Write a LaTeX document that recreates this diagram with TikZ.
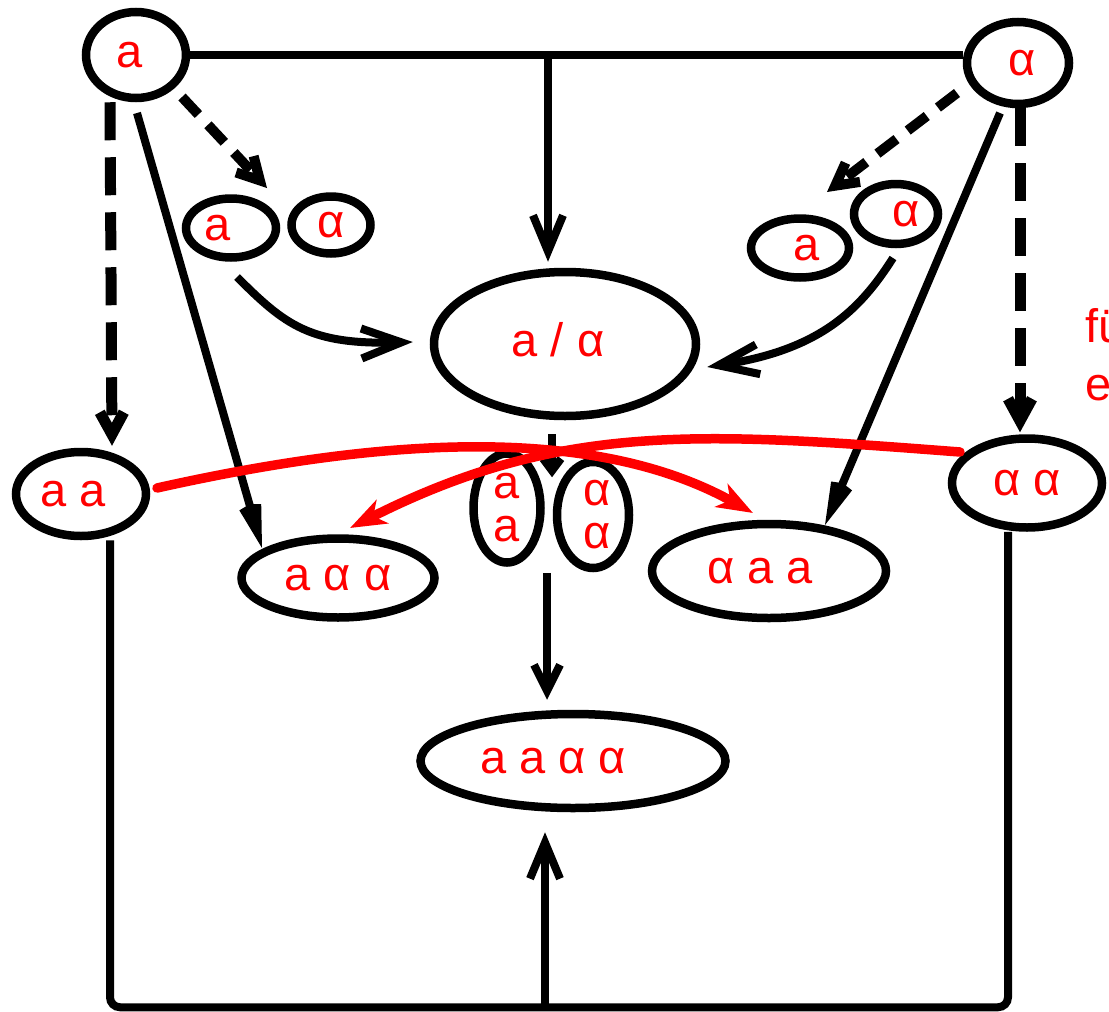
\documentclass[tikz,border=0pt]{standalone}
\usepackage{fontspec}
\setmainfont{Liberation Sans}
\usetikzlibrary{shapes.geometric,arrows.meta,calc}
\definecolor{tred}{RGB}{255,0,0}
\newcommand\txtsize{\fontsize{47}{43}\selectfont}
\newcommand\offt[2]{\kern#1\relax#2\kern-#1\relax}
\begin{document}
\begin{tikzpicture}[x=1pt,y=-1pt,
  ellv/.style={ellipse,draw,line width=8.5pt,inner sep=0pt,text=tred,font=\txtsize},
  ell/.style={ellv,text height=24pt,text depth=0pt},
  blk/.style={line width=8pt},
  dashv/.style={line width=11pt,dash pattern=on 38pt off 17pt},
  dashd/.style={line width=10pt,dash pattern=on 24pt off 14pt},
  barbT/.style={-{Straight Barb[length=36pt,width=30pt]}},
  barbC/.style={-{Straight Barb[length=40pt,width=30pt]}},
  barbS/.style={-{Straight Barb[length=28pt,width=15pt]}},
  barbD/.style={-{Straight Barb[length=22pt,width=24pt]}},
  barbF/.style={-{Straight Barb[length=26pt,width=26pt]}},
  barbSm/.style={-{Straight Barb[length=12pt,width=18pt]}},
  rd/.style={draw=tred,line width=9.5pt,line cap=round,-{Stealth[length=36pt,width=26pt,inset=10pt]}},
  lab/.style={text=tred,font=\txtsize,anchor=base west,inner sep=0pt}
]
\useasboundingbox (0,0) rectangle (1109,1012);
\begin{scope}
\clip (0,0) rectangle (1109,1012);
% nodes
\node[ell,minimum width=100pt,minimum height=86pt] (A) at (136,55) {\offt{-6pt}{a}};
\node[ell,minimum width=102pt,minimum height=82pt] (B) at (1018,63) {\offt{4pt}{α}};
\node[ell,minimum width=90pt,minimum height=59pt] (LA) at (231,228) {\offt{-13pt}{a}};
\node[ell,minimum width=79pt,minimum height=57pt] (LB) at (331,225) {α};
\node[ell,minimum width=84pt,minimum height=60pt] (RB) at (896,214) {\offt{10pt}{α}};
\node[ell,minimum width=98pt,minimum height=59pt] (RA) at (800,248) {\offt{7pt}{a}};
\node[ell,minimum width=262pt,minimum height=144pt] (C) at (565,344) {\offt{-7pt}{a / α}};
\node[ell,minimum width=130pt,minimum height=84pt] (AA) at (81,494) {\offt{-8pt}{a a}};
\node[ell,minimum width=150pt,minimum height=89pt] (BB) at (1027,483) {α α};
\node[ell,minimum width=193pt,minimum height=79pt] (AAB) at (338,578) {a α α};
\node[ell,minimum width=234pt,minimum height=94pt] (BAA) at (769,571) {\offt{-9pt}{α a a}};
\node[ellv,minimum width=67pt,minimum height=109pt,align=center] (VA) at (507,508) {a\\a};
\node[ellv,minimum width=72pt,minimum height=106pt,align=center] (VB) at (593,515) {\offt{4pt}{α}\\\offt{4pt}{α}};
\node[ell,minimum width=305pt,minimum height=94pt] (F) at (573,761) {\offt{-20pt}{a a α α}};
\node[lab] (t1) at (1085,342) {fü};
\node[lab] (t2) at (1085,400) {e};
% top connectors
\draw[blk] (A.east) -- (A.east -| B.west);
\coordinate (tj) at ($(A.east -| C.north)+(-17,0)$);
\draw[blk,barbT] (tj) -- ($(C.north)+(-17,-6)$);
\draw[dashd,barbD] ($(A.center)+(46,42)$) -- ($(LA.center)+(36,-40)$);
\draw[dashd,barbD] ($(B.center)+(-61,30)$) -- ($(RB.center)+(-69,-22)$);
\draw[dashv,barbD] ($(A.south)+(-26,0)$) -- ($(AA.north)+(31,-2)$);
\draw[dashv,barbD] ($(B.south)+(2,0)$) -- ($(BB.north)+(-7,-2)$);
\draw[blk,barbS] ($(A.center)+(1,58)$) -- ($(AAB.center)+(-76,-30)$);
\draw[blk,barbS] ($(B.center)+(-18,50)$) -- ($(BAA.center)+(56,-46)$);
% curved arrows into C
\draw[blk,barbC] ($(LA.center)+(6,49)$) .. controls ($(LA.center)+(54,97)$) and ($(LA.center)+(79,117)$) .. ($(C.west)+(-17,-2)$);
\draw[blk,barbC] ($(RB.center)+(-3,44)$) .. controls ($(RB.center)+(-36,96)$) and ($(RB.center)+(-76,136)$) .. ($(C.east)+(7,23)$);
% centre column
\draw[blk,barbSm] ($(C.south)+(-13,14)$) -- ($(C.south)+(-13,57)$);
\coordinate (vf) at ($(F.north)+(-26,-137)$);
\draw[blk,barbF] (vf) -- ($(F.north)+(-26,-10)$);
% bottom loop
\coordinate (bot) at ($(F.south)+(-28,195)$);
\draw[blk,rounded corners=10pt] ($(AA.south)+(29,0)$) |- (bot) -| ($(BB.south)+(-19,0)$);
\draw[blk,barbT] (bot) -- ($(F.south)+(-28,20)$);
% red crossing arrows
\draw[rd] ($(BB.center)+(-67,-31)$) .. controls (700,432) and (560,422) .. ($(AAB.center)+(12,-50)$);
\draw[rd] ($(AA.center)+(76,-6)$) .. controls (350,445) and (580,417) .. ($(BAA.center)+(-16,-58)$);
\end{scope}
\end{tikzpicture}
\end{document}
